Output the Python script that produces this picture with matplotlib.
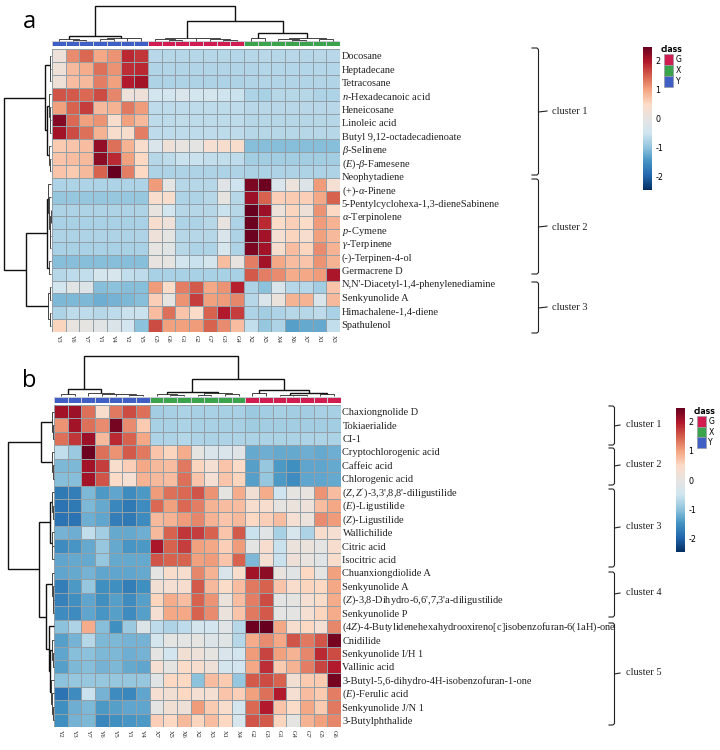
import matplotlib
matplotlib.use("Agg")
import matplotlib.pyplot as plt
from matplotlib.colors import LinearSegmentedColormap, ListedColormap, Normalize
from matplotlib.cm import ScalarMappable
from matplotlib.patches import Rectangle
import numpy as np

W, H = 720, 750
plt.rcParams['mathtext.fontset'] = 'custom'
plt.rcParams['mathtext.rm'] = 'Liberation Serif'
plt.rcParams['mathtext.it'] = 'Liberation Serif:italic'
plt.rcParams['mathtext.bf'] = 'Liberation Serif:bold'
SERIF = 'Liberation Serif'

# ---------- panel a data ----------
cols_a = ['Y3','Y6','Y7','Y1','Y4','Y2','Y5','G5','G6','G1','G2','G7','G3','G4','X2','X5','X4','X6','X7','X1','X3']
class_a = ['Y']*7 + ['G']*7 + ['X']*7
labels_a = ['Docosane','Heptadecane','Tetracosane',r'$\mathit{n}$-Hexadecanoic acid','Heneicosane','Linoleic acid',
            'Butyl 9,12-octadecadienoate',r'$\mathit{β}$-Selinene',r'($\mathit{E}$)-$\mathit{β}$-Famesene','Neophytadiene',
            r'(+)-$\mathit{α}$-Pinene','5-Pentylcyclohexa-1,3-dieneSabinene',r'$\mathit{α}$-Terpinolene',r'$\mathit{p}$-Cymene',
            r'$\mathit{γ}$-Terpinene','(-)-Terpinen-4-ol','Germacrene D',"N,N'-Diacetyl-1,4-phenylenediamine",
            'Senkyunolide A','Himachalene-1,4-diene','Spathulenol']
values_a = [
 [0.15,1.15,1.40,0.95,1.10,1.85,1.75,-.68,-.70,-.70,-.70,-.70,-.70,-.72,-.70,-.68,-.70,-.68,-.70,-.68,-.68],
 [0.20,0.80,0.90,1.35,1.10,1.80,1.85,-.74,-.74,-.74,-.74,-.74,-.74,-.74,-.74,-.72,-.72,-.72,-.72,-.72,-.72],
 [0.20,0.75,0.80,1.25,1.00,1.95,2.05,-.76,-.76,-.76,-.76,-.76,-.76,-.76,-.74,-.74,-.74,-.74,-.74,-.74,-.74],
 [1.55,1.50,1.40,1.60,1.20,0.15,0.20,-.45,-.45,-.30,-.45,-.40,-.50,-.55,-.75,-.80,-.70,-.70,-.70,-.75,-.75],
 [1.00,1.45,1.70,0.80,0.85,1.30,1.05,-.65,-.65,-.65,-.65,-.65,-.65,-.65,-.68,-.68,-.68,-.68,-.68,-.68,-.68],
 [2.25,1.40,1.00,1.10,0.40,1.00,0.80,-.65,-.65,-.62,-.65,-.65,-.65,-.65,-.70,-.70,-.70,-.70,-.70,-.70,-.70],
 [2.05,1.60,1.35,0.85,0.40,0.40,1.25,-.65,-.65,-.65,-.65,-.65,-.65,-.65,-.70,-.70,-.70,-.70,-.70,-.70,-.70],
 [0.65,0.70,0.75,2.15,1.35,0.85,0.40,-.30,0.20,0.05,-.05,0.30,0.35,0.40,-1.05,-1.05,-1.05,-1.05,-1.05,-1.05,-1.05],
 [0.70,0.75,0.80,2.20,1.85,1.00,0.50,-.70,-.65,-.55,-.55,-.60,-.60,-.65,-.85,-.85,-.85,-.85,-.85,-.85,-.85],
 [0.70,0.65,0.80,1.45,2.45,1.25,0.50,-.75,-.75,-.75,-.75,-.75,-.75,-.75,-.78,-.78,-.75,-.75,-.75,-.75,-.75],
 [-.75,-.75,-.75,-.75,-.75,-.75,-.75,1.05,-.05,-.70,-.70,-.70,-.15,-.50,2.30,2.40,-.30,0.10,-.20,1.05,0.30],
 [-.95,-.95,-.95,-.95,-.95,-.95,-.95,0.40,0.40,-.75,-.75,-.70,0.00,-.70,2.10,1.45,0.60,0.65,0.60,0.95,1.45],
 [-.75,-.75,-.75,-.75,-.75,-.75,-.75,0.05,-.45,-.70,-.70,-.70,-.55,-.70,2.45,2.10,0.15,0.55,0.20,1.10,0.50],
 [-.80,-.80,-.80,-.80,-.80,-.80,-.80,0.35,0.15,-.75,-.75,-.70,0.05,-.75,2.40,1.85,0.45,0.60,0.45,1.05,0.85],
 [-.75,-.75,-.75,-.75,-.75,-.75,-.75,0.15,-.05,-.70,-.70,-.70,-.30,-.75,2.40,2.05,0.30,0.55,0.35,1.00,0.80],
 [-.80,-.80,-.80,-.80,-.80,-.80,-.80,0.00,-.10,-.70,-.75,-.75,-.35,-.75,2.30,2.05,0.35,0.75,0.55,1.15,0.85],
 [-1.05,-1.05,-1.05,-1.05,-1.05,-1.05,-1.05,0.05,0.00,-.45,-.55,-.40,0.75,0.05,1.25,2.05,0.95,0.75,0.70,1.10,0.85],
 [-.70,-.65,-.60,-.40,-.35,-.60,-.65,-.80,-.80,-.80,-.80,-.80,-.80,-.80,1.50,1.25,1.15,0.90,0.95,1.05,2.00],
 [-.45,-.10,-.20,-1.05,-1.00,-1.05,-1.05,1.05,0.45,1.25,1.50,0.95,1.10,1.90,-.75,-1.00,-.30,-.70,-.70,-.85,0.70],
 [-1.10,-1.10,-1.10,-1.20,-1.15,-1.10,-1.05,0.60,0.00,1.10,1.70,1.00,1.05,1.20,-.70,-.30,0.10,0.85,0.85,-.30,0.80],
 [-.75,-.65,-.65,-.70,-.65,-.55,-.55,0.75,1.35,0.70,0.45,1.45,1.95,1.70,-.75,-.85,-.75,-.70,-.70,-.65,-.80],
 [0.55,0.05,0.00,-.10,-.25,-.45,-1.00,1.60,1.00,1.00,1.05,1.45,1.15,0.75,-.60,-.95,-.75,-1.35,-1.25,-1.25,-.60],
]
# dendrograms: nested (height, left, right), leaves are display indices
tree_top_a = (35, (5, (2, 0, (1, 1, 2)), (3, (1.6, 3, 4), (2.2, 5, 6))),
              (20, (3, (1.5, 7, (1, 8, 9)), (2.4, 10, (1.6, 11, (1, 12, 13)))),
                   (8, (3, 14, 15), (3, (1.5, 16, (1, 17, 18)), (1.2, 19, 20)))))
tree_left_a = (47, (6, (1.5, 0, (0.8, 1, 2)),
                    (4.5, (2, 3, (1.2, 4, (0.8, 5, 6))), (2.2, 7, (1.5, 8, 9)))),
               (25, (4, (3, 10, (2, 11, (1, (0.5, 12, 13), (0.6, 14, 15)))), (2.5, 16, 17)),
                    (3, (1.2, 18, 19), (1.4, 20, 21))))
clusters_a = ['cluster 1', 'cluster 2', 'cluster 3']

# ---------- panel b data ----------
cols_b = ['Y2','Y3','Y7','Y6','Y5','Y1','Y4','X7','X5','X6','X2','X3','X1','X4','G2','G3','G1','G4','G7','G5','G6']
class_b = ['Y']*7 + ['X']*7 + ['G']*7
labels_b = ['Chaxiongnolide D','Tokiaerialide','CI-1','Cryptochlorogenic acid','Caffeic acid','Chlorogenic acid',
            r"($\mathit{Z,Z'}$)-3,3',8,8'-diligustilide",r'($\mathit{E}$)-Ligustilide',r'($\mathit{Z}$)-Ligustilide',
            'Wallichilide','Citric acid','Isocitric acid','Chuanxiongdiolide A','Senkyunolide A',
            r"($\mathit{Z}$)-3,8-Dihydro-6,6',7,3'a-diligustilide",'Senkyunolide P',
            r'(4$\mathit{Z}$)-4-Butylidenehexahydrooxireno[c]isobenzofuran-6(1aH)-one','Cnidilide','Senkyunolide I/H 1',
            'Vallinic acid','3-Butyl-5,6-dihydro-4H-isobenzofuran-1-one',r'($\mathit{E}$)-Ferulic acid',
            'Senkyunolide J/N 1','3-Butylphthalide']
values_b = [
 [2.05,2.10,1.35,0.40,1.30,1.60,1.35,-.85,-.82,-.78,-.82,-.80,-.82,-.82,-.90,-.85,-.82,-.85,-.85,-.82,-.82],
 [1.10,2.05,1.35,1.15,2.35,1.15,0.65,-.80,-.80,-.78,-.80,-.80,-.82,-.82,-.88,-.85,-.85,-.85,-.85,-.85,-.85],
 [1.35,1.75,2.10,0.80,1.85,1.45,0.95,-.75,-.75,-.72,-.75,-.78,-.75,-.75,-.78,-.78,-.78,-.78,-.75,-.75,-.78],
 [-.60,-.90,2.40,1.35,1.10,1.50,1.30,0.70,0.55,0.90,0.00,-.30,-.30,-.15,-1.25,-1.20,-1.25,-1.25,-1.20,-1.25,-1.20],
 [-1.10,-1.10,2.05,1.70,0.40,0.60,0.95,0.80,0.75,1.30,0.55,0.30,0.70,0.45,-1.35,-.95,-1.40,-1.50,-1.30,-1.30,-1.25],
 [-1.05,-1.05,2.05,1.55,0.45,0.30,0.85,0.80,0.75,1.35,0.70,0.30,0.70,0.55,-1.35,-.95,-1.40,-1.55,-1.30,-1.30,-1.25],
 [-1.75,-1.70,-1.10,-1.40,-1.30,-1.55,-1.40,1.05,1.35,1.40,1.55,1.10,0.00,0.90,0.25,0.90,-.50,0.00,0.05,1.10,0.75],
 [-1.80,-1.75,-1.10,-1.25,-1.60,-1.75,-1.55,1.40,1.00,1.40,1.25,0.85,0.75,0.75,0.35,0.35,0.00,0.10,0.15,0.75,0.95],
 [-1.80,-1.80,-1.20,-1.30,-1.70,-1.75,-1.55,0.80,0.85,1.05,1.20,0.85,0.70,0.80,0.50,0.60,0.75,0.30,0.10,1.15,1.05],
 [-1.15,-1.20,-.60,-.85,-1.25,-1.25,-1.20,0.80,1.45,1.75,1.70,1.45,0.70,1.50,-.55,-.10,-.80,-.35,-.75,0.40,0.30],
 [-1.55,-1.45,-1.25,-.95,-1.25,-1.45,-1.40,2.00,1.45,1.70,1.00,0.95,0.60,1.05,-.05,0.35,-.55,0.10,0.10,-.05,0.35],
 [-1.30,-1.25,-1.25,-.95,-1.25,-1.25,-1.25,1.55,1.45,1.45,1.00,1.05,0.70,1.45,-1.10,0.30,-.55,0.20,0.05,-.10,0.40],
 [-1.30,-1.25,-1.15,-1.30,-1.30,-1.30,-1.25,-.05,0.40,0.35,1.20,0.85,-.30,0.40,2.05,2.20,0.05,-.10,0.50,-.05,1.00],
 [-1.70,-1.40,-.95,-1.50,-1.50,-1.70,-1.50,0.25,0.30,0.35,1.50,0.80,0.45,0.75,1.30,1.45,0.70,0.40,0.55,0.50,0.95],
 [-1.65,-1.50,-1.30,-1.50,-1.35,-1.55,-1.35,0.55,0.90,0.75,1.45,1.10,0.10,0.75,1.25,1.60,-.05,0.00,0.30,0.45,0.90],
 [-1.55,-1.55,-1.30,-1.45,-1.35,-1.55,-1.35,0.30,0.95,0.95,1.45,1.15,0.10,0.70,1.30,1.50,-.05,-.05,0.30,0.55,0.90],
 [-1.00,-.75,0.90,-1.05,-1.50,-.90,-.20,-.65,-.75,-.65,-.40,-.45,-.15,-.70,2.40,2.45,0.95,0.35,0.50,0.30,1.20],
 [-1.35,-1.15,-.70,-1.10,-1.10,-1.15,-1.15,-.40,-.05,-.05,0.00,-.20,-.10,-.70,0.90,1.15,0.95,1.55,1.30,1.55,2.35],
 [-1.30,-1.05,-1.00,-1.10,-1.10,-1.20,-1.15,-.05,-.45,0.25,0.15,0.00,-.30,-.45,1.05,1.65,1.00,0.85,1.20,1.85,1.60],
 [-1.35,-1.10,-1.05,-1.15,-1.10,-1.25,-1.30,0.30,0.00,0.45,0.35,0.20,-.40,-.45,0.95,1.80,0.65,0.85,1.25,1.65,1.95],
 [-1.00,-.95,-.95,-.95,-.95,-.95,-.95,-.10,0.50,0.50,-1.00,0.75,0.65,-.95,1.50,1.60,1.45,0.25,0.65,0.65,2.35],
 [-1.80,-1.55,-.55,-1.15,-1.55,-1.60,-1.30,0.30,0.25,0.50,0.30,0.30,0.70,0.60,1.00,1.35,1.95,0.30,0.75,0.65,1.25],
 [-1.50,-1.20,-1.10,-1.40,-1.35,-1.30,-1.30,-.05,0.25,0.20,1.05,0.65,0.40,-.40,1.40,1.95,0.70,0.45,0.95,0.65,1.30],
 [-1.50,-1.15,-1.10,-1.60,-1.50,-1.45,-1.40,0.60,0.50,0.80,0.55,0.75,0.50,-.35,1.55,1.50,0.55,0.00,0.85,1.00,1.20],
]
tree_top_b = (40, (7, (2, 0, 1), (3, 2, (2.5, 3, (2, 4, (1.5, 5, 6))))),
              (17, (4, (2, 7, (1, 8, 9)), (3, (1.5, 10, 11), (2, 12, 13))),
                   (6, (3, 14, 15), (3.5, (1.8, 16, (1, 17, 18)), (2, 19, 20)))))
tree_left_b = (46, (13, (1.5, 0, (1, 1, 2)), (2, 3, (1, 4, 5))),
               (15, (4, (1.5, 6, (1, 7, 8)), (2, 9, (1.5, 10, 11))),
                    (8, (1.5, 12, (0.8, 13, (0.5, 14, 15))),
                        (5, 16, (3.5, (1.5, 17, (0.8, 18, 19)), (2.5, 20, (1.5, 21, (0.8, 22, 23))))))))
clusters_b = ['cluster 1', 'cluster 2', 'cluster 3', 'cluster 4', 'cluster 5']

class_names = ['G', 'X', 'Y']
class_colors = ['#d01c4e', '#3aa34c', '#3f5fc4']
cbar_ticks = [-2, -1, 0, 1, 2]

cmap = LinearSegmentedColormap.from_list('hm', ['#053061', '#2166ac', '#4393c3', '#92c5de', '#d1e5f0', '#e6e4e2',
                                                 '#fddbc7', '#f4a582', '#d6604d', '#b2182b', '#67001f'])
norm = Normalize(-2.45, 2.45)

fig = plt.figure(figsize=(W / 100, H / 100), dpi=100)


def axpx(x0, y0, x1, y1, **kw):
    return fig.add_axes([x0 / W, 1 - y1 / H, (x1 - x0) / W, (y1 - y0) / H], **kw)


def walk(node, segs):
    if not isinstance(node, tuple):
        return float(node), 0.0
    h, l, r = node
    pl, hl = walk(l, segs)
    pr, hr = walk(r, segs)
    segs.append(([pl, pl, pr, pr], [hl, h, h, hr]))
    return (pl + pr) / 2, h


def dendro(tree, box, n, hmax, horizontal):
    ax = axpx(*box)
    ax.axis('off')
    segs = []
    walk(tree, segs)
    for p, hh in segs:
        lw = 1.0 if max(hh) > 3.2 else 0.7
        c = '#111111' if max(hh) > 3.2 else '#444444'
        if horizontal:
            ax.plot(p, hh, color=c, lw=lw, solid_joinstyle='miter', solid_capstyle='butt', clip_on=False)
        else:
            ax.plot(hh, p, color=c, lw=lw, solid_joinstyle='miter', solid_capstyle='butt', clip_on=False)
    if horizontal:
        ax.set_xlim(-0.5, n - 0.5)
        ax.set_ylim(0, hmax)
    else:
        ax.set_ylim(n - 0.5, -0.5)
        ax.set_xlim(hmax, 0)


def heat(values, cols, classes, box, annot_box):
    x0, y0, x1, y1 = box
    ax = axpx(x0, y0, x1, y1)
    arr = np.array(values)
    ax.pcolormesh(arr, cmap=cmap, norm=norm, edgecolors='#93a0a8', linewidth=0.55)
    ax.set_ylim(arr.shape[0], 0)
    ax.set_xlim(0, arr.shape[1])
    for s in ax.spines.values():
        s.set_visible(False)
    ax.set_yticks([])
    ax.set_xticks(np.arange(len(cols)) + 0.5)
    ax.set_xticklabels(cols, rotation=270, fontsize=4.6, family=SERIF, color='#222222')
    ax.tick_params(axis='x', length=0, pad=2.5)
    an = axpx(*annot_box)
    idx = [[class_names.index(c) for c in classes]]
    an.pcolormesh(np.array(idx), cmap=ListedColormap(class_colors), vmin=0, vmax=2,
                  edgecolors='#c9ccd6', linewidth=0.4)
    an.axis('off')


def cbar(box):
    cax = axpx(*box)
    cb = fig.colorbar(ScalarMappable(norm=norm, cmap=cmap), cax=cax, ticks=cbar_ticks)
    cb.outline.set_visible(False)
    cb.ax.tick_params(length=0, labelsize=5.8, pad=2.5)
    cb.ax.set_yticklabels([str(t) for t in cbar_ticks], family='DejaVu Sans')


# overlay in pixel units for pasted annotation text
ov = fig.add_axes([0, 0, 1, 1], zorder=5)
ov.set_xlim(0, W)
ov.set_ylim(H, 0)
ov.axis('off')
ov.patch.set_alpha(0)


def brace(x_left, x_spine, x_tip, y0, y1, ym):
    ov.plot([x_left, x_spine - 1.5, x_spine, x_spine, x_spine - 1.5, x_left],
            [y0, y0, y0 + 1.5, y1 - 1.5, y1, y1], color='#222222', lw=0.8)
    ov.plot([x_spine, x_tip], [ym, ym - 1], color='#222222', lw=0.8)


def legend(x0, y0, title_x, title_y, h):
    for i, (n, c) in enumerate(zip(class_names, class_colors)):
        ov.add_patch(Rectangle((x0, y0 + i * h), 9.5, h, facecolor=c, edgecolor='#9a9aa8', lw=0.5))
        ov.text(x0 + 12, y0 + (i + .5) * h, n, fontsize=5.6, va='center', family='DejaVu Sans')
    ov.text(title_x, title_y, 'class', fontsize=5.6, fontweight='bold', ha='center', va='center', family='DejaVu Sans')


# ---- panel a ----
heat(values_a, cols_a, class_a, (52, 49.3, 340, 332), (52, 41.3, 340, 46.3))
dendro(tree_top_a, (52, 5, 340, 40.5), 21, 35.5, True)
dendro(tree_left_a, (4, 49.3, 51, 332), 22, 47, False)
cbar((643, 47, 652, 190))
legend(663.5, 54, 672, 49.5, 11)
for i, t in enumerate(labels_a):
    ov.text(341.5, 56.7 + i * 13.42, t, fontsize=7.5, family=SERIF, va='center', color='#222222')
for t, (a0, a1, am, ly) in zip(clusters_a, [(48, 175, 112, 111.5), (179, 274, 227, 227), (282, 333, 308, 307.5)]):
    brace(532, 538.5, 547, a0, a1, am)
    ov.text(552, ly, t, fontsize=7.5, family=SERIF, va='center', color='#222222')
ov.text(23, 28, 'a', fontsize=17, family='Open Sans', va='baseline')

# ---- panel b ----
heat(values_b, cols_b, class_b, (54, 405, 341, 727), (54, 397, 341, 403))
dendro(tree_top_b, (54, 356.5, 341, 396.5), 21, 40, True)
dendro(tree_left_b, (7, 405, 53.5, 727), 24, 46.5, False)
cbar((676, 408, 685, 552))
legend(696.5, 416, 705, 411, 10.7)
for i, t in enumerate(labels_b):
    ov.text(342.5, 412.7 + i * 13.43, t, fontsize=7.5, family=SERIF, va='center', color='#222222')
for t, (a0, a1, am) in zip(clusters_b, [(406, 445, 426), (448, 485, 466), (489, 567, 528), (572, 617, 594), (623, 725, 674)]):
    brace(609, 614.5, 620, a0, a1, am)
    ov.text(625.5, am - 1.5, t, fontsize=7.5, family=SERIF, va='center', color='#222222')
ov.text(22, 387, 'b', fontsize=17, family='Open Sans', va='baseline')

fig.savefig('out.png', dpi=100, facecolor='white')
